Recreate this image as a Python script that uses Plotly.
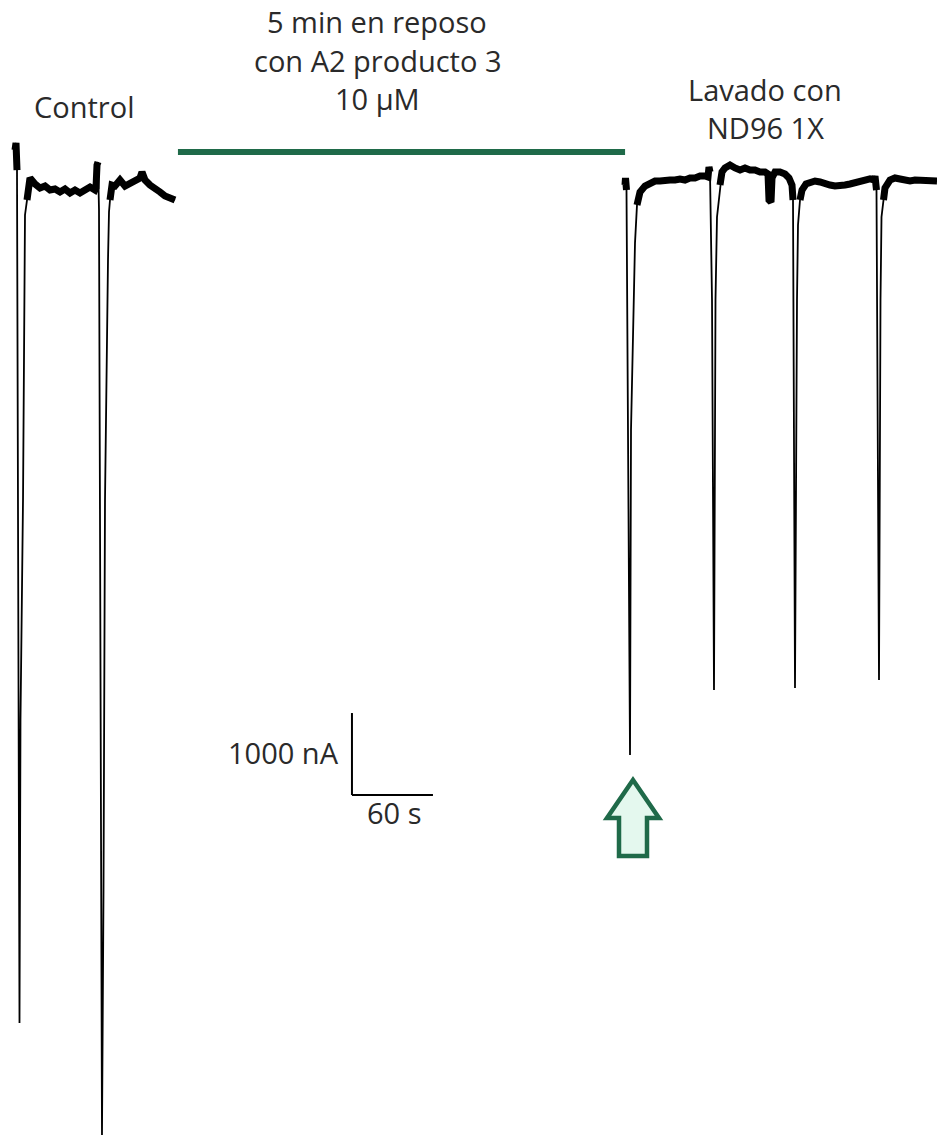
import plotly.graph_objects as go

# ---------------- data ----------------
# Recording time (s) and membrane current (nA), control segment
control_t = [0, 0.74, 1.48, 2.22, 3.33, 4.07, 5.93, 7.41, 8.89, 9.63, 11.11,
             14.81, 18.52, 22.22, 25.93, 29.63, 33.33, 37.04, 40.74, 44.44, 48.15,
             51.85, 55.56, 59.26, 60.0, 60.74, 61.48, 62.22, 63.70, 64.44, 65.56,
             66.67, 68.89, 69.63, 70.37, 71.85, 74.07, 77.78, 81.48, 85.19, 88.89,
             92.59, 94.07, 96.30, 100.0, 103.70, 107.41, 111.11, 114.81, 118.52]
control_i = [390, 476, 146, -3878, -10256, -6561, -3878, -402, -220, -37, 49,
             -24, -73, -49, -98, -85, -122, -85, -134, -98, -134,
             -98, -61, -98, -73, 207, 244, -341, -8634, -11622, -8634,
             -3878, -951, -366, -220, -37, -49, 24, -49, -12, 12,
             49, 122, 24, -37, -73, -122, -171, -195, -220]

# Wash (ND96 1X) segment
wash_t = [451.85, 452.22, 452.96, 454.07, 455.56, 456.30, 458.52, 459.26, 460.74,
          462.96, 466.67, 470.37, 474.07, 477.78, 481.48, 485.19, 488.89, 492.59,
          496.30, 500.0, 503.70, 507.41, 511.11, 513.33, 514.07, 514.81, 516.30,
          517.78, 518.89, 520.0, 520.74, 522.22, 523.70, 525.93, 529.63, 533.33,
          537.04, 540.74, 544.44, 548.15, 551.85, 555.56, 557.78, 558.52, 560.0,
          560.74, 562.96, 566.67, 570.37, 573.33, 574.81, 575.56, 576.30, 577.78,
          579.26, 580.0, 581.48, 582.96, 585.93, 588.89, 592.59, 596.30, 600.0,
          603.70, 607.41, 611.11, 614.81, 618.52, 622.22, 625.93, 629.63, 633.33,
          636.30, 637.04, 638.15, 640.0, 641.11, 641.85, 643.33, 644.44, 648.15,
          651.85, 655.56, 659.26, 662.96, 666.67, 670.37, 674.07, 677.78, 682.96]
wash_i = [-37, 49, -98, -3024, -6988, -3024, -1439, -744, -280,
          -122, -49, -12, 12, 12, 24, 24, 24, 37,
          24, 49, 49, 73, 73, 61, 183, 122, -1439,
          -6195, -1439, -427, -317, -37, 122, 171, 207, 171,
          146, 171, 146, 146, 122, 122, 98, -220, -244,
          49, 122, 122, 98, 49, 0, -37, -220, -6171,
          -1439, -524, -220, -98, -24, 0, 12, 0, -24,
          -37, -49, -49, -37, -24, -12, 12, 24, 37,
          24, 73, -98, -6073, -1439, -427, -220, -73, 24,
          49, 37, 24, 12, 24, 24, 12, 24, 12]

# Scale bar and labels
scale_t, scale_i = 60, 1000
scale_labels = ["1000 nA", "60 s"]
control_label = ["Control"]
drug_label = ["5 min en reposo", "con A2 producto 3", "10 µM"]
wash_label = ["Lavado con", "ND96 1X"]
drug_period = [120.7, 451.9]

# ---------------- geometry ----------------
W, H = 937, 1143
PX_PER_S = 81 / 60          # from the 60 s scale bar
PX_PER_NA = 82 / 1000       # from the 1000 nA scale bar
X0_PX, Y0_PX = 15, 182      # pixel of t=0, I=0
x_range = [-X0_PX / PX_PER_S, (W - X0_PX) / PX_PER_S]
y_range = [-(H - Y0_PX) / PX_PER_NA, Y0_PX / PX_PER_NA]

def px(x):
    return x / W

def py(y):
    return 1 - y / H

GREEN = "#1f6a49"
FONT = "Open Sans, sans-serif"
TXT = "#2a2a2a"

t_all = control_t + [None] + wash_t
i_all = control_i + [None] + wash_i
# baseline (noisy band) portions drawn thicker
band_i = [v if (v is not None and v > -300) else None for v in i_all]

fig = go.Figure()
fig.add_trace(go.Scatter(x=t_all, y=band_i, mode="lines",
                         line=dict(color="black", width=7), connectgaps=False,
                         hoverinfo="skip"))
fig.add_trace(go.Scatter(x=t_all, y=i_all, mode="lines",
                         line=dict(color="black", width=1.8), connectgaps=False,
                         hoverinfo="skip"))

shapes = []
# drug application bar
shapes.append(dict(type="line", xref="x", yref="y", x0=drug_period[0], x1=drug_period[1],
                   y0=366, y1=366, line=dict(color=GREEN, width=6)))
# scale bar (data coordinates)
sb_t0, sb_i0 = 249.6, -7476
shapes.append(dict(type="line", xref="x", yref="y", x0=sb_t0, x1=sb_t0,
                   y0=sb_i0, y1=sb_i0 + scale_i, line=dict(color="black", width=2)))
shapes.append(dict(type="line", xref="x", yref="y", x0=sb_t0, x1=sb_t0 + scale_t,
                   y0=sb_i0, y1=sb_i0, line=dict(color="black", width=2)))
# hollow up-arrow
pts = [(633, 780), (659, 818), (647, 818), (647, 856), (619, 856), (619, 818), (607, 818)]
path = "M " + " L ".join(f"{px(a):.5f},{py(b):.5f}" for a, b in pts) + " Z"
shapes.append(dict(type="path", xref="paper", yref="paper", path=path,
                   line=dict(color=GREEN, width=4.5), fillcolor="#e4f8ee"))

annotations = [dict(text=control_label[0], x=px(84), y=py(106))]
for k, line in enumerate(drug_label):
    annotations.append(dict(text=line, x=px(377), y=py(22 + 38 * k)))
for k, line in enumerate(wash_label):
    annotations.append(dict(text=line, x=px(765), y=py(90 + 38 * k)))
annotations.append(dict(text=scale_labels[0], x=px(341), y=py(752), xanchor="right"))
annotations.append(dict(text=scale_labels[1], x=px(394), y=py(812)))
for a in annotations:
    a.update(xref="paper", yref="paper", showarrow=False,
             font=dict(family=FONT, size=29, color=TXT), align="center")
    a.setdefault("xanchor", "center")
    a.setdefault("yanchor", "middle")

fig.update_layout(
    width=W, height=H,
    margin=dict(l=0, r=0, t=0, b=0),
    paper_bgcolor="white", plot_bgcolor="white",
    showlegend=False,
    xaxis=dict(range=x_range, visible=False, fixedrange=True),
    yaxis=dict(range=y_range, visible=False, fixedrange=True),
    shapes=shapes, annotations=annotations,
)

fig.write_html("out.html", config={"displayModeBar": False})
